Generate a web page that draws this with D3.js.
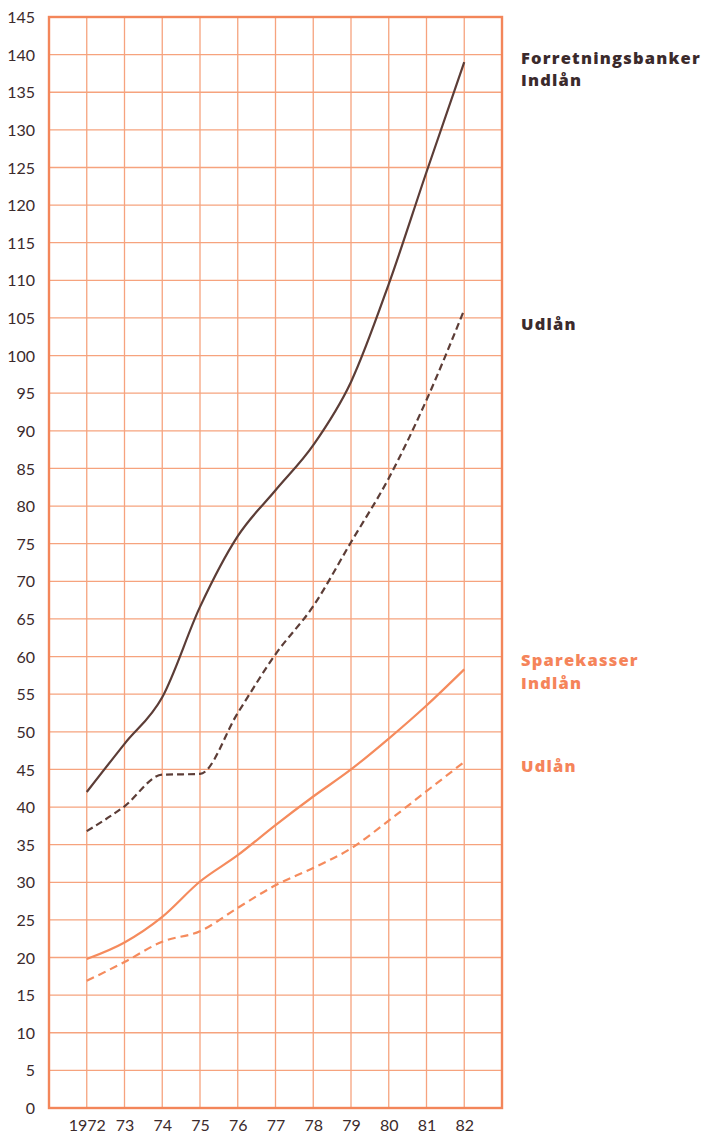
<!DOCTYPE html>
<html>
<head>
<meta charset="utf-8">
<script src="https://cdn.jsdelivr.net/npm/d3@7"></script>
<style>
  html, body { margin: 0; padding: 0; background: #fff; overflow: hidden; }
  svg { display: block; }
</style>
</head>
<body>
<div id="chart"></div>
<script>
// years along the x axis
const years = [1972, 1973, 1974, 1975, 1976, 1977, 1978, 1979, 1980, 1981, 1982];
const yearLabels = ['1972', '73', '74', '75', '76', '77', '78', '79', '80', '81', '82'];
const yTicks = d3.range(0, 146, 5);

// Forretningsbanker
const bankIndlaan = [42.0, 48.4, 54.6, 66.6, 76.0, 82.1, 88.1, 96.5, 109.5, 124.4, 139.0];
const bankUdlaan  = [36.8, 40.1, 44.3, 44.4, 52.5, 60.3, 66.7, 75.2, 83.7, 94.1, 106.1];
// Sparekasser
const spareIndlaan = [19.8, 22.0, 25.4, 30.1, 33.6, 37.6, 41.4, 45.0, 49.1, 53.5, 58.3];
const spareUdlaan  = [16.9, 19.4, 22.1, 23.5, 26.6, 29.6, 31.9, 34.5, 38.2, 42.1, 46.0];

const width = 705;
const height = 1138;
const margin = {top: 17, right: 203, bottom: 30, left: 49};
const innerWidth = width - margin.left - margin.right;
const innerHeight = height - margin.top - margin.bottom;

const gridColor = '#f6a37e';
const borderColor = '#f3865a';
const darkLine = '#5c3d37';
const orangeLine = '#f58b5d';
const darkText = '#3b2a2c';
const orangeText = '#f5845a';
const fontFamily = 'Lato, "Open Sans", sans-serif';
const labelFamily = '"Open Sans", Lato, sans-serif';

const xScale = d3.scaleLinear()
    .domain([1971, 1983])
    .range([0, innerWidth]);

const yScale = d3.scaleLinear()
    .domain([0, 145])
    .range([innerHeight, 0]);

const svg = d3.select('#chart')
  .append('svg')
    .attr('width', width)
    .attr('height', height);

const g = svg.append('g')
    .attr('transform', `translate(${margin.left},${margin.top})`);

// grid
g.append('g')
  .selectAll('line')
  .data(yTicks.filter(d => d > 0 && d < 145))
  .join('line')
    .attr('x1', 0)
    .attr('x2', innerWidth)
    .attr('y1', d => yScale(d))
    .attr('y2', d => yScale(d))
    .attr('stroke', gridColor)
    .attr('stroke-width', 1.3);

g.append('g')
  .selectAll('line')
  .data(years)
  .join('line')
    .attr('x1', d => xScale(d))
    .attr('x2', d => xScale(d))
    .attr('y1', 0)
    .attr('y2', innerHeight)
    .attr('stroke', gridColor)
    .attr('stroke-width', 1.3);

// frame
g.append('rect')
    .attr('x', 0)
    .attr('y', 0)
    .attr('width', innerWidth)
    .attr('height', innerHeight)
    .attr('fill', 'none')
    .attr('stroke', borderColor)
    .attr('stroke-width', 2.4);

// axes
const yAxis = g.append('g')
    .call(d3.axisLeft(yScale).tickValues(yTicks).tickSize(0).tickPadding(14));
yAxis.select('.domain').remove();
yAxis.selectAll('.tick text')
    .style('font', `16px ${fontFamily}`)
    .attr('fill', darkText)
    .attr('dy', '0.35em');

const xAxis = g.append('g')
    .attr('transform', `translate(0,${innerHeight})`)
    .call(d3.axisBottom(xScale).tickValues(years).tickSize(0).tickPadding(12)
        .tickFormat((d, i) => yearLabels[i]));
xAxis.select('.domain').remove();
xAxis.selectAll('.tick text')
    .style('font', `16px ${fontFamily}`)
    .attr('fill', darkText);

// lines
const line = d3.line()
    .x((d, i) => xScale(years[i]))
    .y(d => yScale(d))
    .curve(d3.curveMonotoneX);

const series = [
  {values: bankIndlaan, color: darkLine, dash: null},
  {values: bankUdlaan, color: darkLine, dash: '7,4'},
  {values: spareIndlaan, color: orangeLine, dash: null},
  {values: spareUdlaan, color: orangeLine, dash: '8,5'}
];

g.selectAll('.series')
  .data(series)
  .join('path')
    .attr('class', 'series')
    .attr('d', d => line(d.values))
    .attr('fill', 'none')
    .attr('stroke', d => d.color)
    .attr('stroke-width', 2.2)
    .attr('stroke-dasharray', d => d.dash);

// series labels
const labels = [
  {text: 'Forretningsbanker', y: 64, color: darkText},
  {text: 'Indlån', y: 86, color: darkText},
  {text: 'Udlån', y: 330, color: darkText},
  {text: 'Sparekasser', y: 666, color: orangeText},
  {text: 'Indlån', y: 689, color: orangeText},
  {text: 'Udlån', y: 772, color: orangeText}
];

svg.selectAll('.series-label')
  .data(labels)
  .join('text')
    .attr('class', 'series-label')
    .attr('x', 521)
    .attr('y', d => d.y)
    .attr('fill', d => d.color)
    .style('font', `800 16.5px ${labelFamily}`)
    .style('letter-spacing', '1.2px')
    .text(d => d.text);
</script>
</body>
</html>
